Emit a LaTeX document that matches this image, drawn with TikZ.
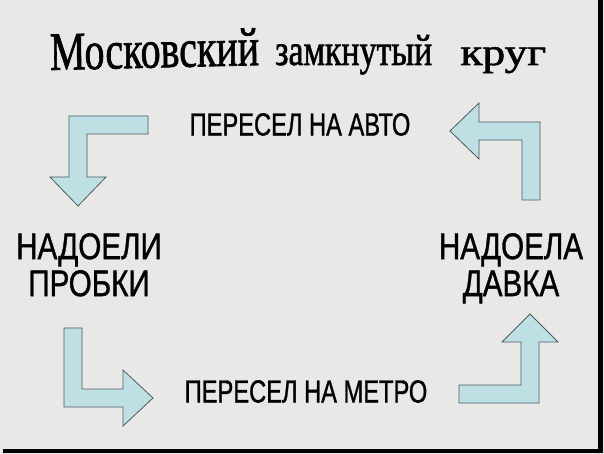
\documentclass[tikz,border=0pt]{standalone}
\usepackage{fontspec}
\setmainfont{Liberation Serif}
\newfontfamily\labelfont[FakeBold=1.2]{Liberation Sans}
\newfontfamily\titlefont[FakeBold=1.4]{Liberation Serif}
\definecolor{slidegray}{RGB}{232,232,230}
\definecolor{arrowfill}{RGB}{190,224,228}
\definecolor{arrowline}{RGB}{75,92,96}
\begin{document}
\begin{tikzpicture}[x=1pt, y=-1pt,
    bent/.style={fill=arrowfill, draw=arrowline, line width=0.8pt, line join=miter},
    lbl/.style={inner sep=0pt, anchor=north, align=center,
      font=\labelfont\fontsize{37}{37}\selectfont, xscale=0.8},
    caption/.style={inner sep=0pt, anchor=north,
      font=\labelfont\fontsize{32}{32}\selectfont, xscale=0.74},
    title/.style={inner sep=0pt, anchor=base west}]
  \useasboundingbox (0, 0) rectangle (604, 454);
  \fill[slidegray] (0, 0) rectangle (604, 454);
  \fill[black] (3, 0) rectangle (603, 453);
  \fill[slidegray] (0, 0) rectangle (598, 449);

  % title
  \node[title, font=\titlefont\fontsize{54}{54}\selectfont, xscale=0.74, rotate=1] (mosc) at (50, 70) {Московский};
  \node[title, font=\titlefont\fontsize{44}{44}\selectfont, xscale=0.77] (zamk) at (275, 65) {замкнутый};
  \node[title, font=\titlefont\fontsize{38}{38}\selectfont, xscale=1.2] (krug) at (460, 65) {круг};

  % labels
  \node[caption] (avto) at (300, 113) {ПЕРЕСЕЛ НА АВТО};
  \node[caption] (metro) at (306, 380) {ПЕРЕСЕЛ НА МЕТРО};
  \node[lbl] (probki) at (89, 233) {НАДОЕЛИ\\ПРОБКИ};
  \node[lbl] (davka) at (511, 233) {НАДОЕЛА\\ДАВКА};

  % bent arrows
  \draw[bent] (148, 116) -- (69, 116) -- (69, 177) -- (50, 177) -- (78, 206)
    -- (106, 177) -- (87, 177) -- (87, 134) -- (148, 134) -- cycle;
  \draw[bent] (522, 200) -- (522, 140) -- (479, 140) -- (479, 159) -- (450, 131)
    -- (479, 103) -- (479, 122) -- (540, 122) -- (540, 200) -- cycle;
  \draw[bent] (64, 328) -- (82, 328) -- (82, 389) -- (123, 389) -- (123, 370)
    -- (153, 398) -- (123, 426) -- (123, 407) -- (64, 407) -- cycle;
  \draw[bent] (459, 385) -- (521, 385) -- (521, 342) -- (502, 342) -- (530, 314)
    -- (558, 342) -- (539, 342) -- (539, 403) -- (459, 403) -- cycle;
\end{tikzpicture}
\end{document}
